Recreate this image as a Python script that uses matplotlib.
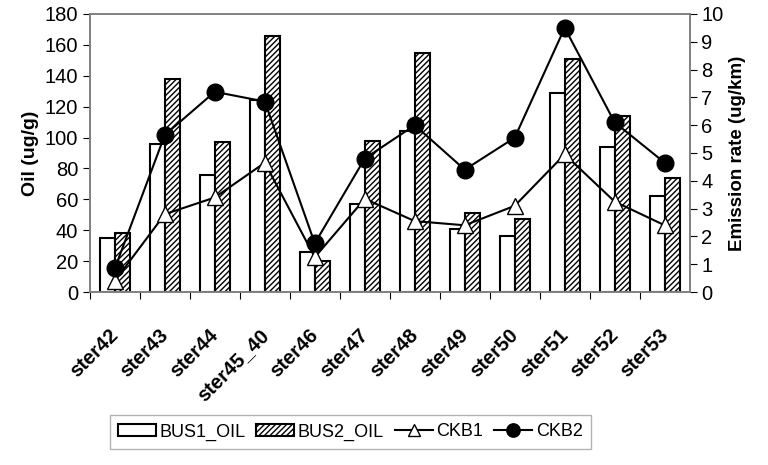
import numpy as np
import matplotlib.pyplot as plt
import matplotlib.transforms as mtransforms

plt.rcParams.update({
    "font.family": ["Liberation Sans", "DejaVu Sans"],
    "font.size": 13,
    "hatch.linewidth": 1.0,
})

categories = ["ster42", "ster43", "ster44", "ster45_40", "ster46", "ster47",
              "ster48", "ster49", "ster50", "ster51", "ster52", "ster53"]
bus1_oil = [35, 96, 76, 124, 26, 57, 104, 41, 36, 129, 94, 62]
bus2_oil = [38, 138, 97, 166, 20, 98, 155, 51, 47, 151, 114, 74]
ckb1 = [0.4, 2.8, 3.4, 4.65, 1.25, 3.35, 2.55, 2.4, 3.1, 4.95, 3.25, 2.4]
ckb2 = [0.85, 5.65, 7.2, 6.85, 1.75, 4.8, 6.0, 4.4, 5.55, 9.5, 6.1, 4.65]

x = np.arange(len(categories))
w = 0.3

fig = plt.figure(figsize=(7.68, 4.65), dpi=100)
ax = fig.add_axes([0.117, 0.372, 0.781, 0.598])

b1 = ax.bar(x - w / 2, bus1_oil, w, color="white", edgecolor="black", linewidth=1.5, label="BUS1_OIL")
b2 = ax.bar(x + w / 2, bus2_oil, w, color="white", edgecolor="black", linewidth=1.5,
            hatch="//////", label="BUS2_OIL")
ax.set_ylim(0, 180)
ax.set_yticks(range(0, 181, 20))
ax.set_xlim(-0.5, len(categories) - 0.5)
ax.set_ylabel("Oil (ug/g)", fontweight="bold", fontsize=14)

ax.set_xticks(x - 0.5, minor=False)
ax.set_xticks(x, minor=True)
ax.set_xticklabels([""] * len(x))
ax.set_xticklabels(categories, minor=True, rotation=45, ha="right", rotation_mode="anchor",
                   fontweight="bold", fontsize=14.5)
ax.tick_params(axis="x", which="minor", length=0, pad=24)
ax.tick_params(axis="x", which="major", length=5, direction="out")
ax.tick_params(axis="y", labelsize=14.5, length=5)
shift = mtransforms.ScaledTranslation(-0.06, 0, fig.dpi_scale_trans)
for lab in ax.get_xticklabels(minor=True):
    lab.set_transform(lab.get_transform() + shift)

ax2 = ax.twinx()
l1, = ax2.plot(x, ckb1, color="black", lw=1.5, marker="^", markersize=11,
               markerfacecolor="white", markeredgecolor="black", label="CKB1")
l2, = ax2.plot(x, ckb2, color="black", lw=1.5, marker="o", markersize=12,
               markerfacecolor="black", label="CKB2")
ax2.set_ylim(0, 10)
ax2.set_yticks(range(0, 11))
ax2.set_ylabel("Emission rate (ug/km)", fontweight="bold", fontsize=13.5)
ax2.tick_params(axis="y", labelsize=14.5, length=5)

for a in (ax, ax2):
    for s in a.spines.values():
        s.set_color("#808080")
        s.set_linewidth(1.2)

fig.legend(handles=[b1, b2, l1, l2], loc="center", bbox_to_anchor=(0.456, 0.071),
           ncol=4, frameon=True, fancybox=False, edgecolor="#a0a0a0", fontsize=13,
           handlelength=2.1, handleheight=0.7, handletextpad=0.2, columnspacing=0.6,
           borderpad=0.45, markerscale=0.8)

fig.savefig("out.png", dpi=100)
